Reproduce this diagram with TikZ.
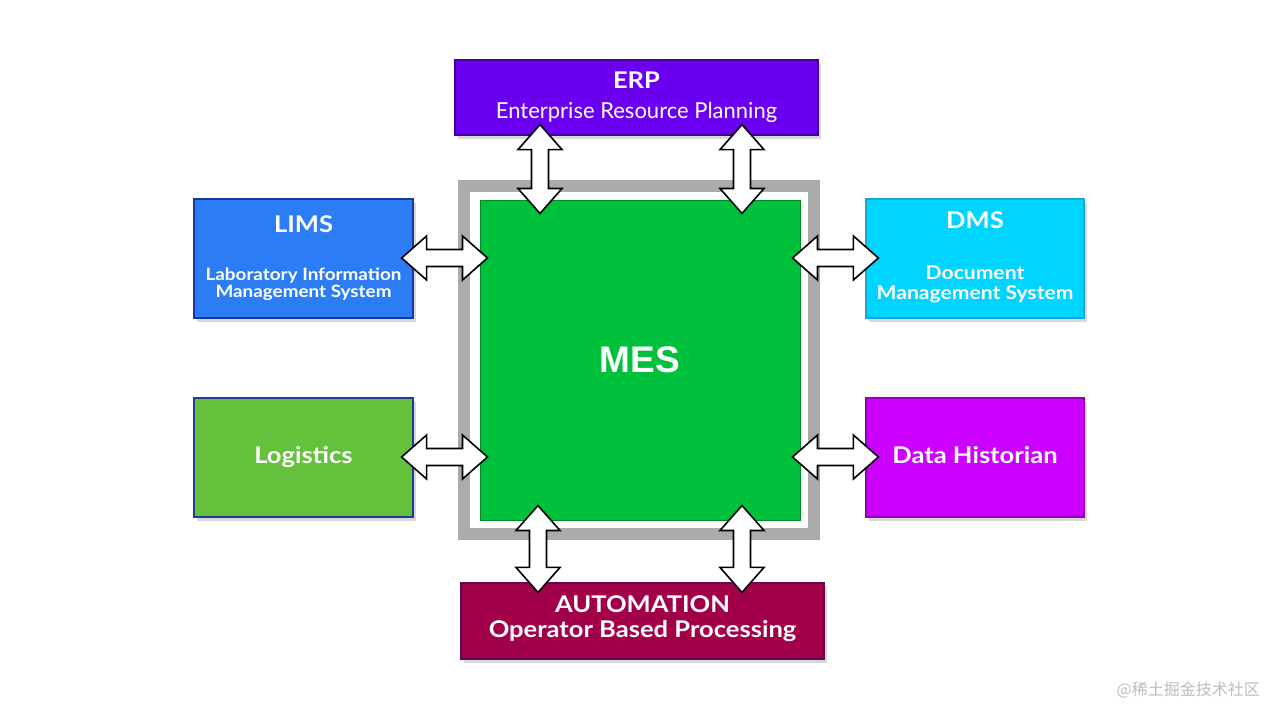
\documentclass[tikz,border=0pt]{standalone}
\usepackage{fontspec}
\setmainfont{Lato}
\newfontfamily\wide{Lato}[FakeStretch=1.11]
\newfontfamily\mesfont{Liberation Sans}
\newfontfamily\cjk{Noto Sans CJK SC}
\usetikzlibrary{calc,shadows}
\definecolor{erpc}{HTML}{6B00F0}
\definecolor{erpb}{HTML}{4200A0}
\definecolor{limsc}{HTML}{2C7CF6}
\definecolor{limsb}{HTML}{1838A0}
\definecolor{dmsc}{HTML}{00D5FF}
\definecolor{dmsb}{HTML}{1AA6D6}
\definecolor{logc}{HTML}{63C13B}
\definecolor{logb}{HTML}{1F3A9A}
\definecolor{histc}{HTML}{CC00FF}
\definecolor{histb}{HTML}{9400BA}
\definecolor{autoc}{HTML}{A3004A}
\definecolor{autob}{HTML}{5E0A5A}
\definecolor{mesc}{HTML}{00C13B}
\definecolor{mesb}{HTML}{008A2A}
\definecolor{framec}{HTML}{ABABAB}
\definecolor{wmark}{HTML}{BDBDBD}
\tikzset{
  sysbox/.style={draw, line width=1.2pt, inner sep=0pt,
    drop shadow={shadow xshift=3pt, shadow yshift=-4pt, opacity=0.3}},
  ttl/.style={text=white, font=\wide\fontsize{23}{23}\selectfont\bfseries, anchor=base, inner sep=0pt},
  sub/.style={text=white, font=\wide\fontsize{17}{20}\selectfont\bfseries, anchor=base, inner sep=0pt, align=center},
  subbig/.style={sub, font=\wide\fontsize{19}{20}\selectfont\bfseries},
  blockarrow/.style={draw=black, fill=white, line width=1.6pt, line join=miter,
    to path={
      -- ($(\tikztostart)!25pt!(\tikztotarget)!22pt!90:(\tikztotarget)$)
      -- ($(\tikztostart)!25pt!(\tikztotarget)!8.5pt!90:(\tikztotarget)$)
      -- ($(\tikztotarget)!25pt!(\tikztostart)!8.5pt!-90:(\tikztostart)$)
      -- ($(\tikztotarget)!25pt!(\tikztostart)!22pt!-90:(\tikztostart)$)
      -- (\tikztotarget)
      -- ($(\tikztotarget)!25pt!(\tikztostart)!22pt!90:(\tikztostart)$)
      -- ($(\tikztotarget)!25pt!(\tikztostart)!8.5pt!90:(\tikztostart)$)
      -- ($(\tikztostart)!25pt!(\tikztotarget)!8.5pt!-90:(\tikztotarget)$)
      -- ($(\tikztostart)!25pt!(\tikztotarget)!22pt!-90:(\tikztotarget)$)
      -- cycle}}
}
\begin{document}
\begin{tikzpicture}[x=1pt,y=-1pt]
\useasboundingbox (0,0) rectangle (1280,720);
\fill[white] (0,0) rectangle (1280,720);

% central frame and MES
\node[draw=framec, line width=12pt, minimum width=350pt, minimum height=348pt, inner sep=0pt] (frame) at (639,360) {};
\node[fill=mesc, draw=mesb, line width=1pt, minimum width=320pt, minimum height=320pt, inner sep=0pt] (mes) at (640,360) {};
\node[text=white, font=\mesfont\fontsize{37}{37}\selectfont\bfseries, inner sep=0pt] (mest) at (640,360) {MES};

% ERP
\node[sysbox, fill=erpc, draw=erpb, minimum width=363pt, minimum height=75pt] (erp) at (636.5,97.5) {};
\node[ttl] (erpt) at (636.5,88) {ERP};
\node[text=white, font=\fontsize{22}{22}\selectfont, anchor=base, inner sep=0pt] (erps) at (636.5,118) {Enterprise Resource Planning};

% LIMS
\node[sysbox, fill=limsc, draw=limsb, minimum width=219pt, minimum height=119pt] (lims) at (303.5,258.5) {};
\node[ttl] (limst) at (303.5,232) {LIMS};
\node[sub] (limss1) at (303.5,280.5) {Laboratory Information};
\node[sub] (limss2) at (303.5,297) {Management System};

% DMS
\node[sysbox, fill=dmsc, draw=dmsb, minimum width=218pt, minimum height=119pt] (dms) at (975,258.5) {};
\node[ttl] (dmst) at (975,228) {DMS};
\node[subbig] (dmss1) at (975,279.5) {Document};
\node[subbig] (dmss2) at (975,299.5) {Management System};

% Logistics
\node[sysbox, fill=logc, draw=logb, minimum width=219pt, minimum height=119pt] (log) at (303.5,457.5) {};
\node[ttl] (logt) at (303.5,463.5) {Logistics};

% Data Historian
\node[sysbox, fill=histc, draw=histb, minimum width=218pt, minimum height=119pt] (hist) at (975,457.5) {};
\node[ttl] (histt) at (975,463.5) {Data Historian};

% AUTOMATION
\node[sysbox, fill=autoc, draw=autob, minimum width=363pt, minimum height=76pt] (auto) at (642.5,621) {};
\node[ttl] (autot) at (642.5,612.5) {AUTOMATION};
\node[ttl] (autos) at (642.5,637) {Operator Based Processing};

% arrow end points
\coordinate (erpA) at ([shift={(-96.5,-11)}]erp.south);
\coordinate (mesA) at ([shift={(-100,14)}]mes.north);
\coordinate (erpB) at ([shift={(105.5,-11)}]erp.south);
\coordinate (mesB) at ([shift={(102,14)}]mes.north);
\coordinate (limsA) at ([shift={(-12,-0.5)}]lims.east);
\coordinate (mesC) at ([shift={(8,-102)}]mes.west);
\coordinate (dmsA) at ([shift={(13,-0.5)}]dms.west);
\coordinate (mesD) at ([shift={(-8,-102)}]mes.east);
\coordinate (logA) at ([shift={(-12,-0.5)}]log.east);
\coordinate (mesE) at ([shift={(8,97)}]mes.west);
\coordinate (histA) at ([shift={(13,-0.5)}]hist.west);
\coordinate (mesF) at ([shift={(-8,97)}]mes.east);
\coordinate (mesG) at ([shift={(-102,-15)}]mes.south);
\coordinate (autoA) at ([shift={(-104.5,10)}]auto.north);
\coordinate (mesH) at ([shift={(102,-15)}]mes.south);
\coordinate (autoB) at ([shift={(99.5,10)}]auto.north);

\draw[blockarrow] (erpA) to (mesA);
\draw[blockarrow] (erpB) to (mesB);
\draw[blockarrow] (limsA) to (mesC);
\draw[blockarrow] (mesD) to (dmsA);
\draw[blockarrow] (logA) to (mesE);
\draw[blockarrow] (mesF) to (histA);
\draw[blockarrow] (mesG) to (autoA);
\draw[blockarrow] (mesH) to (autoB);

% watermark
\node[text=wmark, font=\cjk\fontsize{16}{16}\selectfont, anchor=base east, inner sep=0pt] (wm) at (1260,695) {@稀土掘金技术社区};
\end{tikzpicture}
\end{document}
